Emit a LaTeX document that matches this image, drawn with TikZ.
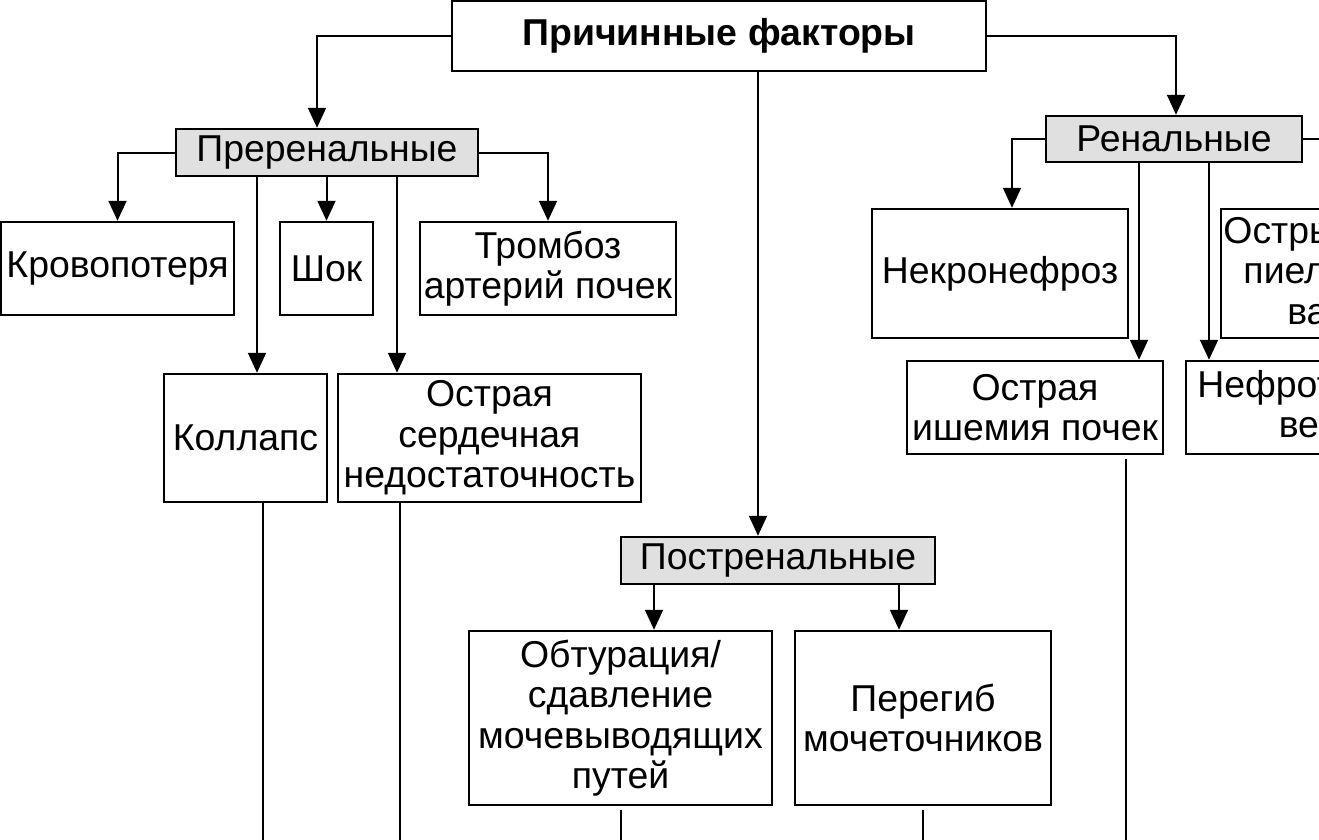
\documentclass[tikz,border=0pt]{standalone}
\usepackage{fontspec}
\setmainfont{Liberation Sans}
\usetikzlibrary{arrows.meta}
\tikzset{
 box/.style={draw, line width=2.5pt, inner sep=0pt, align=center, font=\fontsize{37.4}{40.5}\selectfont},
 group/.style={box, fill=black!12},
 arr/.style={line width=2pt, -{Triangle[length=20pt,width=18pt]}},
 link/.style={line width=2pt}
}
\begin{document}
\begin{tikzpicture}[x=1pt,y=-1pt]
 \path[use as bounding box, clip] (0,0) rectangle (1319,839);
 \node[box, minimum width=534pt, minimum height=70pt, font=\bfseries\fontsize{37.4}{40.5}\selectfont] (top) at (719,36) {Причинные факторы};

 \node[group, minimum width=302pt, minimum height=47pt] (pre) at (327,152.5) {Преренальные};
 \node[group, minimum width=256pt, minimum height=46pt] (ren) at (1174,139) {Ренальные};
 \node[group, minimum width=314pt, minimum height=47pt] (post) at (778,560.5) {Постренальные};

 \node[box, minimum width=233pt, minimum height=93pt] (krov) at (117.5,268.5) {Кровопотеря};
 \node[box, minimum width=93pt, minimum height=93pt] (shok) at (326.5,268.5) {Шок};
 \node[box, minimum width=256pt, minimum height=93pt] (tromb) at (548,268.5) {Тромбоз\\артерий почек};
 \node[box, minimum width=163pt, minimum height=128pt] (koll) at (245.5,438) {Коллапс};
 \node[box, minimum width=303pt, minimum height=128pt] (osn) at (489.5,438) {Острая\\сердечная\\недостаточность};

 \node[box, minimum width=303pt, minimum height=174pt] (obt) at (620.5,718) {Обтурация/\\сдавление\\мочевыводящих\\путей};
 \node[box, minimum width=256pt, minimum height=174pt] (pereg) at (923,718) {Перегиб\\мочеточников};

 \node[box, minimum width=256pt, minimum height=129pt] (nekr) at (1000,273.5) {Некронефроз};
 \node[box, minimum width=286pt, minimum height=129pt] (pielo) at (1364,273.5) {Острый нефрит,\\пиелонефрит,\\васкулит};
 \node[box, minimum width=256pt, minimum height=93pt] (ishem) at (1035,407.5) {Острая\\ишемия почек};
 \node[box, minimum width=353pt, minimum height=93pt] (nefro) at (1362.5,407.5) {Нефротоксические\\вещества};

 \coordinate (bottom) at (0,860);
 \coordinate (redge) at (1340,0);
 \draw[arr] (top.west) -| ([xshift=-10pt]pre.north);
 \draw[arr] (top.east) -| ([xshift=2pt]ren.north);
 \coordinate (c0) at ([xshift=39pt]top.south);
 \draw[arr] (c0) -- (c0 |- post.north);

 \draw[arr] (pre.west) -| (krov.north);
 \draw[arr] (pre.east) -| (tromb.north);
 \draw[arr] (pre.south -| shok.north) -- (shok.north);
 \coordinate (p1) at ([xshift=-70pt]pre.south);
 \coordinate (p2) at ([xshift=70pt]pre.south);
 \draw[arr] (p1) -- (p1 |- koll.north);
 \draw[arr] (p2) -- (p2 |- osn.north);

 \coordinate (q1) at ([xshift=-124pt]post.south);
 \coordinate (q2) at ([xshift=121pt]post.south);
 \draw[arr] (q1) -- (q1 |- obt.north);
 \draw[arr] (q2) -- (q2 |- pereg.north);

 \draw[arr] (ren.west) -| ([xshift=12pt]nekr.north);
 \draw[link] (ren.east) -- (ren.east -| redge);
 \coordinate (r1) at ([xshift=-35pt]ren.south);
 \coordinate (r2) at ([xshift=35pt]ren.south);
 \draw[arr] (r1) -- (r1 |- ishem.north);
 \draw[arr] (r2) -- (r2 |- nefro.north);

 \coordinate (b1) at ([xshift=17.5pt]koll.south);
 \coordinate (b2) at ([xshift=-89.5pt]osn.south);
 \coordinate (b3) at ([yshift=-4pt]obt.south);
 \coordinate (b4) at ([yshift=-4pt]pereg.south);
 \coordinate (b5) at ([xshift=91pt,yshift=-4pt]ishem.south);
 \draw[link] (b1) -- (b1 |- bottom);
 \draw[link] (b2) -- (b2 |- bottom);
 \draw[link] (b3) -- (b3 |- bottom);
 \draw[link] (b4) -- (b4 |- bottom);
 \draw[link] (b5) -- (b5 |- bottom);
\end{tikzpicture}
\end{document}
